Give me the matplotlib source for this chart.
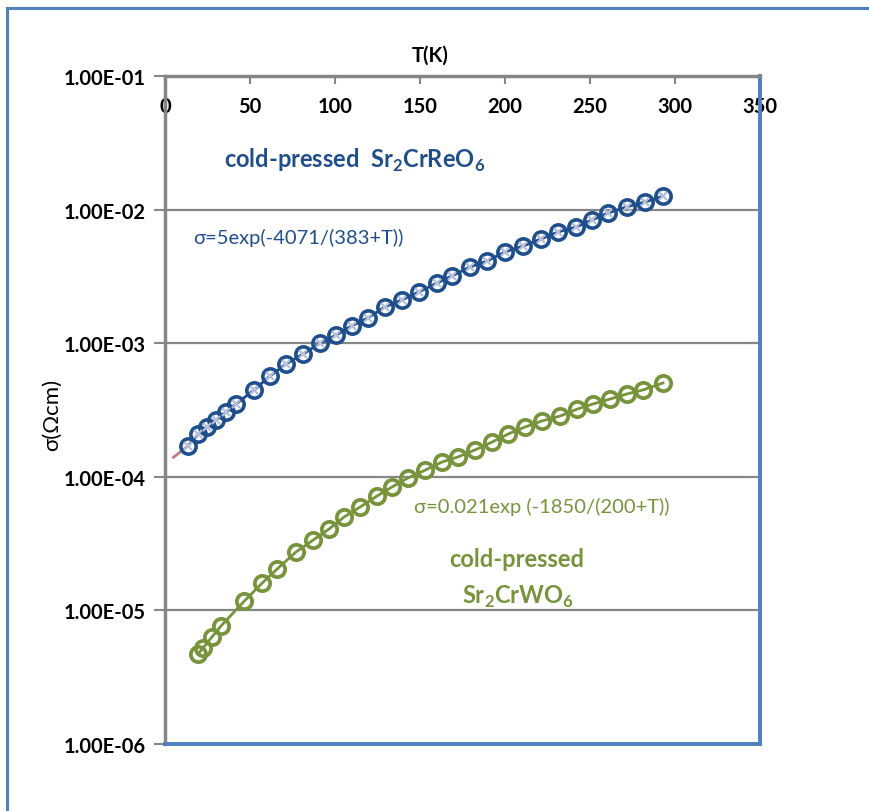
import numpy as np
import matplotlib.pyplot as plt
from matplotlib.lines import Line2D

plt.rcParams['font.family'] = ['Lato', 'DejaVu Sans']
plt.rcParams['mathtext.fontset'] = 'custom'
plt.rcParams['mathtext.rm'] = 'Lato'
plt.rcParams['mathtext.bf'] = 'Lato:bold'

# Sr2CrReO6 (синие точки)
T_re = [13.5, 19.4, 24.7, 30.0, 35.9, 41.8, 52.4, 61.8, 71.2, 81.2, 91.2,
        100.6, 110.0, 119.4, 129.4, 139.4, 149.4, 160.0, 168.8, 179.4, 189.4,
        200.0, 210.6, 221.2, 231.2, 241.8, 251.2, 260.6, 271.8, 282.4, 292.9]
sig_re = [1.70e-4, 2.09e-4, 2.36e-4, 2.66e-4, 3.05e-4, 3.51e-4, 4.47e-4,
          5.69e-4, 6.99e-4, 8.30e-4, 1.00e-3, 1.15e-3, 1.35e-3, 1.55e-3,
          1.87e-3, 2.11e-3, 2.42e-3, 2.82e-3, 3.19e-3, 3.72e-3, 4.12e-3,
          4.82e-3, 5.34e-3, 6.03e-3, 6.80e-3, 7.41e-3, 8.36e-3, 9.43e-3,
          1.05e-2, 1.14e-2, 1.26e-2]
# начало линии аппроксимации
T_re_start = [5.0, 13.5]
sig_re_start = [1.40e-4, 1.70e-4]

# Sr2CrWO6 (зелёные точки)
T_w = [19.4, 22.4, 27.6, 32.9, 46.5, 57.1, 65.9, 77.1, 87.1, 96.5, 105.3,
       114.7, 124.7, 133.5, 142.9, 152.9, 162.9, 172.4, 182.4, 192.4, 201.8,
       211.8, 221.8, 232.4, 242.4, 251.8, 261.8, 271.8, 281.2, 292.9]
sig_w = [4.72e-6, 5.24e-6, 6.33e-6, 7.64e-6, 1.17e-5, 1.60e-5, 2.04e-5,
         2.74e-5, 3.36e-5, 4.07e-5, 5.00e-5, 5.94e-5, 7.18e-5, 8.39e-5,
         9.80e-5, 1.12e-4, 1.29e-4, 1.41e-4, 1.59e-4, 1.82e-4, 2.09e-4,
         2.36e-4, 2.62e-4, 2.85e-4, 3.21e-4, 3.51e-4, 3.82e-4, 4.17e-4,
         4.47e-4, 5.04e-4]

xticks = [0, 50, 100, 150, 200, 250, 300, 350]
yticks = [1e-6, 1e-5, 1e-4, 1e-3, 1e-2, 1e-1]
ytick_labels = ['1.00E-06', '1.00E-05', '1.00E-04', '1.00E-03', '1.00E-02', '1.00E-01']

blue = '#1f4e8c'
green = '#77933c'
gray = '#868686'
frame_blue = '#4f81bd'

fig = plt.figure(figsize=(8.7, 8.12), dpi=100)
ax = fig.add_axes([0.1897, 0.0825, 0.6839, 0.8227])

# Рамка вокруг рисунка (слева и сверху)
fig.add_artist(Line2D([0.008, 0.008], [0.0, 0.989], color=frame_blue, lw=2.2))
fig.add_artist(Line2D([0.008, 1.0], [0.989, 0.989], color=frame_blue, lw=2.2))

ax.set_yscale('log')
ax.set_xlim(0, 350)
ax.set_ylim(1e-6, 1e-1)

for y in yticks[1:-1]:
    ax.axhline(y, color=gray, lw=1.6, zorder=1)

# Синяя серия
ax.plot(T_re_start, sig_re_start, color='#c0788a', lw=2, zorder=2)
ax.plot(T_re, sig_re, color=blue, lw=2, zorder=2)
ax.plot(T_re, sig_re, 'o', ms=11, mfc='none', mec=blue, mew=2.6, zorder=3)
ax.plot(T_re, sig_re, 'x', ms=6, color='#b4bfdc', mew=1.6, zorder=4)

# Зелёная серия
ax.plot(T_w, sig_w, '-o', color=green, lw=2, ms=11, mfc='none', mec=green,
        mew=2.7, zorder=3)

# Оси
ax.xaxis.tick_top()
ax.set_xticks(xticks)
ax.set_xticklabels([str(v) for v in xticks], fontweight='bold', fontsize=14.5)
ax.tick_params(axis='x', direction='in', length=6, width=1.5, color=gray, pad=-29)
ax.set_yticks(yticks)
ax.set_yticklabels(ytick_labels, fontweight='bold', fontsize=14.5)
ax.yaxis.set_minor_locator(plt.NullLocator())
ax.tick_params(axis='y', direction='out', length=8, width=1.5, color=gray, pad=6)

ax.spines['left'].set_color(gray)
ax.spines['left'].set_linewidth(2.5)
ax.spines['top'].set_color(gray)
ax.spines['top'].set_linewidth(2.5)
ax.spines['right'].set_color(frame_blue)
ax.spines['right'].set_linewidth(2.8)
ax.spines['bottom'].set_color(frame_blue)
ax.spines['bottom'].set_linewidth(2.8)

fig.text(0.4945, 0.932, 'T(K)', fontsize=14.5, fontweight='bold', ha='center', va='center')
fig.text(0.06, 0.489, 'σ(Ωcm)', fontsize=16, rotation=90, ha='center', va='center')

# Подписи
ax.text(34.7, 2.39e-2, r'cold-pressed  Sr$_\mathbf{2}$CrReO$_\mathbf{6}$', color=blue,
        fontsize=17, fontweight='bold', va='center')
ax.text(16.5, 6.24e-3, 'σ=5exp(-4071/(383+T))', color=blue, fontsize=14.5, va='center')
ax.text(146.5, 6.0e-5, 'σ=0.021exp (-1850/(200+T))', color=green, fontsize=14.5, va='center')
ax.text(207, 2.43e-5, 'cold-pressed', color=green, fontsize=17, fontweight='bold',
        ha='center', va='center')
ax.text(207.6, 1.28e-5, r'Sr$_\mathbf{2}$CrWO$_\mathbf{6}$', color=green, fontsize=17,
        fontweight='bold', ha='center', va='center')

plt.savefig('out.png', dpi=100)
